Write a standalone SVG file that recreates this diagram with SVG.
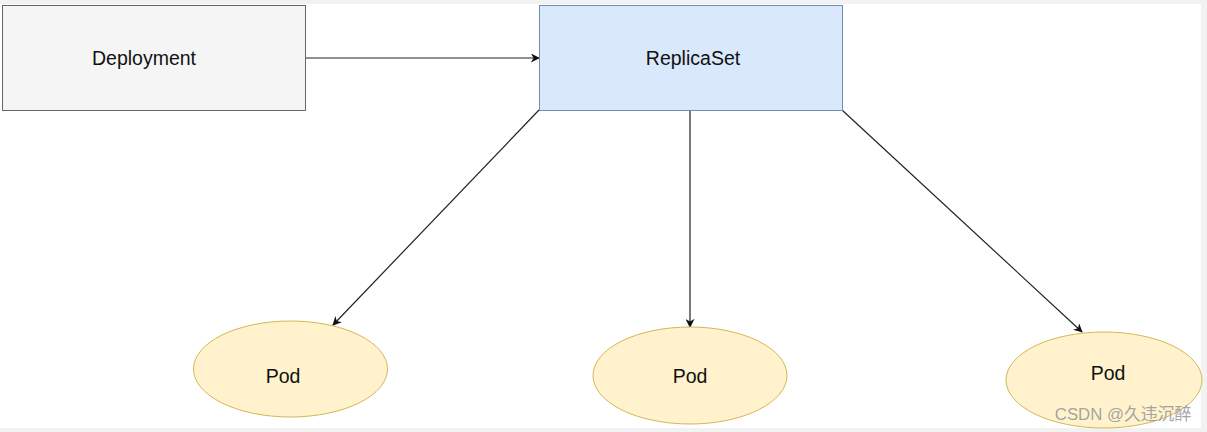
<svg xmlns="http://www.w3.org/2000/svg" width="1207" height="432" viewBox="0 0 1207 432">
<defs>
<style>
.lbl{font-family:"Liberation Sans",Arial,sans-serif;font-size:19.5px;fill:#111;text-anchor:middle;dominant-baseline:central}
.edge{stroke:#222;stroke-width:1.2;fill:none;marker-end:url(#ah)}
.pod{fill:#fff2cc;stroke:#d6b656;stroke-width:1}
</style>
<marker id="ah" viewBox="0 0 10 10" refX="9" refY="5" markerWidth="9" markerHeight="9" markerUnits="userSpaceOnUse" orient="auto">
<path d="M0,0 L10,5 L0,10 L3,5 z" fill="#111"/>
</marker>
</defs>
<rect x="0" y="0" width="1207" height="432" fill="#f2f2f2"/>
<rect x="0" y="4" width="1201" height="424" fill="#ffffff"/>
<g id="connectors">
<line class="edge" x1="305" y1="58" x2="539" y2="58"/>
<line class="edge" x1="539" y1="110" x2="333" y2="325"/>
<line class="edge" x1="690" y1="110" x2="690" y2="327"/>
<line class="edge" x1="842" y1="110" x2="1082" y2="332"/>
</g>
<g id="deployment">
<rect x="2.5" y="5.5" width="303" height="105" fill="#f5f5f5" stroke="#666" stroke-width="1"/>
<text class="lbl" x="144" y="58">Deployment</text>
</g>
<g id="replicaset">
<rect x="539.5" y="5.5" width="303" height="105" fill="#dae8fc" stroke="#6c8ebf" stroke-width="1"/>
<text class="lbl" x="693" y="58">ReplicaSet</text>
</g>
<g id="pod1">
<ellipse class="pod" cx="290.5" cy="369" rx="97" ry="48"/>
<text class="lbl" x="283" y="376">Pod</text>
</g>
<g id="pod2">
<ellipse class="pod" cx="690" cy="375.5" rx="97" ry="48.5"/>
<text class="lbl" x="690" y="376">Pod</text>
</g>
<g id="pod3">
<ellipse class="pod" cx="1104" cy="380" rx="98" ry="48"/>
<text class="lbl" x="1108" y="373">Pod</text>
</g>
<text x="1123" y="414" font-family="'Liberation Sans','Noto Sans CJK SC',sans-serif" font-size="16.8" fill="#999" fill-opacity="0.9" text-anchor="middle" dominant-baseline="central">CSDN @久违沉醉</text>
</svg>
